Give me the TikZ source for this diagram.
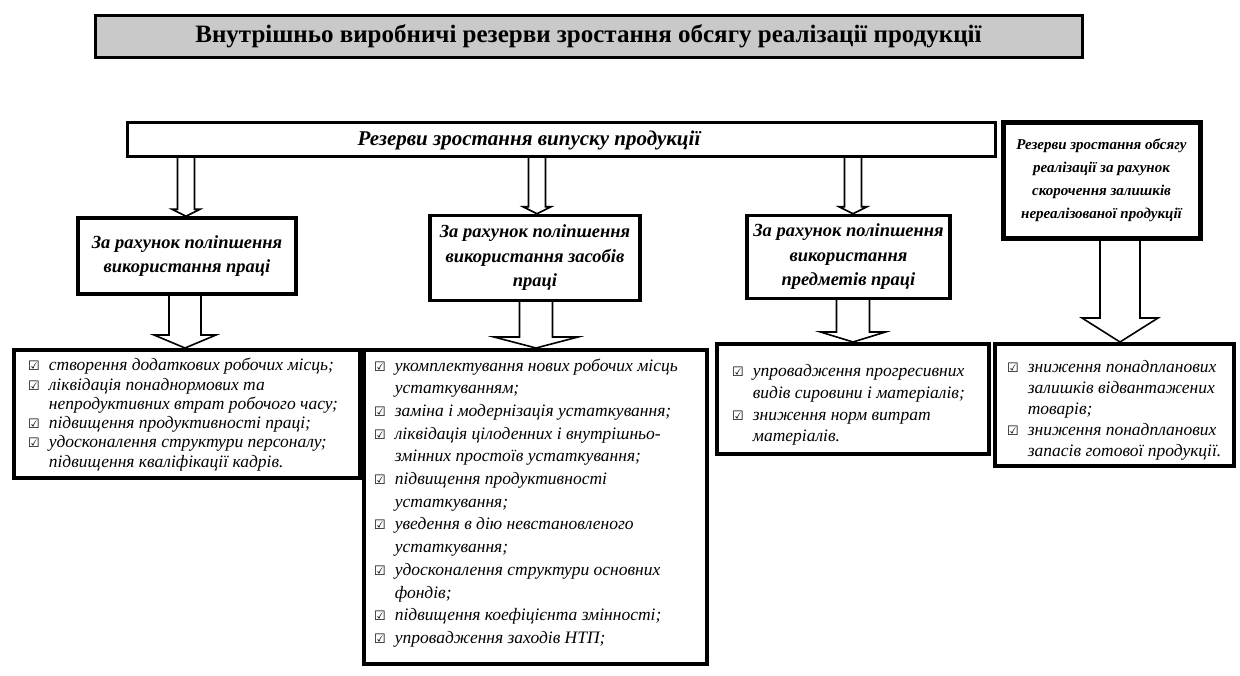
\documentclass[tikz,border=0pt]{standalone}
\usepackage{fontspec}
\setmainfont{Liberation Serif}
\newfontfamily\symfont{DejaVu Sans}
\usetikzlibrary{calc}
\pgfdeclarelayer{background}
\pgfsetlayers{background,main}

% check-box bullet and list rows
\newcommand\chk{{\symfont\fontsize{13}{13}\selectfont ☑}}
\newcommand\listfont[1]{\itshape\fontsize{17.5}{#1}\selectfont}

% hollow block arrow straight down from #1 to the level of #2
% #3 half shaft width, #4 half head width, #5 head length
\newcommand\blockarrow[5]{%
  \draw[blockarr] let \p1=(#1), \p2=(#2) in
    (\x1-#3,\y1) -- (\x1-#3,\y2+#5) -- (\x1-#4,\y2+#5) -- (\x1,\y2)
    -- (\x1+#4,\y2+#5) -- (\x1+#3,\y2+#5) -- (\x1+#3,\y1);}

\tikzset{
  frame/.style={draw=black, line width=#1, fill=white, inner sep=0pt},
  titlebox/.style={draw=black, line width=3pt, fill=gray!42, inner sep=0pt,
    font=\bfseries\fontsize{25}{28}\selectfont},
  headbox/.style={frame=3.5pt, align=center,
    font=\bfseries\itshape\fontsize{18.5}{24.5}\selectfont},
  listtext/.style={anchor=north west, inner sep=0pt, align=left},
  blockarr/.style={draw=black, line width=1.6pt, fill=white, line join=miter},
}

\begin{document}
\begin{tikzpicture}[x=1pt, y=-1pt]
\useasboundingbox (0,0) rectangle (1240,675);

% headline
\node[titlebox, minimum width=987pt, minimum height=42pt] (title) at (588.5,36)
  {Внутрішньо виробничі резерви зростання обсягу реалізації продукції};

% output reserves
\node[frame=3pt, minimum width=868pt, minimum height=34pt] (out) at (561,139) {};
\node[inner sep=0pt, font=\bfseries\itshape\fontsize{21}{23}\selectfont] (outtext) at (529,140)
  {Резерви зростання випуску продукції};

% sales reserves from stock reduction
\node[headbox, frame=5pt, minimum width=197pt, minimum height=116pt,
      font=\bfseries\itshape\fontsize{15}{23}\selectfont] (stock) at (1101.5,180)
  {Резерви зростання обсягу\\реалізації за рахунок\\скорочення залишків\\нереалізованої продукції};

% three groups of output reserves
\node[headbox, minimum width=218pt, minimum height=76pt] (labour) at (187,256)
  {За рахунок поліпшення\\використання праці};
\node[headbox, minimum width=210pt, minimum height=85pt] (means) at (535,258)
  {За рахунок поліпшення\\використання засобів\\праці};
\node[headbox, minimum width=203pt, minimum height=83pt] (objects) at (848.5,257)
  {За рахунок поліпшення\\використання\\предметів праці};

% measure lists
\node[frame=3.5pt, minimum width=346pt, minimum height=128pt, anchor=north west] (l1) at (12,348) {};
\node[listtext, font=\listfont{19.3}] (t1) at ($(l1.north west)+(16,9)$) {%
  \begin{tabular}{@{}l@{\hspace{9pt}}l@{}}
  \chk & створення додаткових робочих місць;\\
  \chk & ліквідація понаднормових та\\
       & непродуктивних втрат робочого часу;\\
  \chk & підвищення продуктивності праці;\\
  \chk & удосконалення структури персоналу;\\
       & підвищення кваліфікації кадрів.
  \end{tabular}};

\node[frame=3.5pt, minimum width=343pt, minimum height=314pt, anchor=north west] (l2) at (362,348) {};
\node[listtext, font=\listfont{22.7}] (t2) at ($(l2.north west)+(12,7)$) {%
  \begin{tabular}{@{}l@{\hspace{9pt}}l@{}}
  \chk & укомплектування нових робочих місць\\
       & устаткуванням;\\
  \chk & заміна і модернізація устаткування;\\
  \chk & ліквідація цілоденних і внутрішньо-\\
       & змінних простоїв устаткування;\\
  \chk & підвищення продуктивності\\
       & устаткування;\\
  \chk & уведення в дію невстановленого\\
       & устаткування;\\
  \chk & удосконалення структури основних\\
       & фондів;\\
  \chk & підвищення коефіцієнта змінності;\\
  \chk & упровадження заходів НТП;
  \end{tabular}};

\node[frame=3.5pt, minimum width=272pt, minimum height=110pt, anchor=north west] (l3) at (715,342) {};
\node[listtext, font=\listfont{21.8}] (t3) at ($(l3.north west)+(17,19)$) {%
  \begin{tabular}{@{}l@{\hspace{9pt}}l@{}}
  \chk & упровадження прогресивних\\
       & видів сировини і матеріалів;\\
  \chk & зниження норм витрат\\
       & матеріалів.
  \end{tabular}};

\node[frame=3.5pt, minimum width=239pt, minimum height=122pt, anchor=north west] (l4) at (993,342) {};
\node[listtext, font=\listfont{21}] (t4) at ($(l4.north west)+(14,16)$) {%
  \begin{tabular}{@{}l@{\hspace{9pt}}l@{}}
  \chk & зниження понадпланових\\
       & залишків відвантажених\\
       & товарів;\\
  \chk & зниження понадпланових\\
       & запасів готової продукції.
  \end{tabular}};

% connecting block arrows
\begin{pgfonlayer}{background}
\coordinate (a1) at (186,156);
\coordinate (a2) at (537,156);
\coordinate (a3) at (853,156);
\blockarrow{a1}{labour.north}{8.5}{14}{7}
\blockarrow{a2}{means.north}{8.5}{14}{7}
\blockarrow{a3}{objects.north}{8.5}{14}{7}
\coordinate (b1) at (185,294);
\coordinate (b2) at (536,300);
\coordinate (b3) at (853,298);
\coordinate (b4) at (1120,238);
\blockarrow{b1}{l1.north}{16}{31}{13}
\blockarrow{b2}{l2.north}{16.5}{42}{11}
\blockarrow{b3}{l3.north}{16.5}{32.5}{10}
\blockarrow{b4}{l4.north}{20}{38}{24}
\end{pgfonlayer}
\end{tikzpicture}
\end{document}
